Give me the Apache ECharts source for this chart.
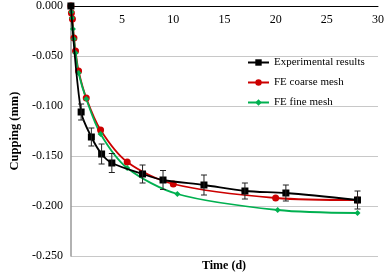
<!DOCTYPE html>
<html>
<head>
<meta charset="utf-8">
<script src="https://cdn.jsdelivr.net/npm/echarts@6/dist/echarts.min.js"></script>
<style>
  html, body { margin: 0; padding: 0; background: #fff; }
  #chart { width: 387px; height: 277px; }
</style>
</head>
<body>
<div id="chart"></div>
<script>
// experimental results (time in days, cupping in mm, error bar half-height)
const expTime = [0, 1, 2, 3, 4, 7, 9, 13, 17, 21, 28];
const expVal = [0, -0.106, -0.131, -0.148, -0.157, -0.168, -0.174, -0.179, -0.185, -0.187, -0.194];
const expErr = [0, 0.008, 0.009, 0.010, 0.0095, 0.009, 0.0095, 0.010, 0.008, 0.008, 0.009];

// FE coarse mesh
const coarseTime = [0, 0.05, 0.15, 0.3, 0.45, 0.75, 1.5, 2.9, 5.5, 10, 20, 28];
const coarseVal = [0, -0.007, -0.013, -0.032, -0.045, -0.065, -0.092, -0.124, -0.156, -0.178, -0.192, -0.194];

// FE fine mesh
const fineTime = [0, 0.05, 0.1, 0.2, 0.3, 0.45, 0.75, 1.5, 2.9, 5.5, 10.4, 20.2, 28];
const fineVal = [0, -0.006, -0.012, -0.023, -0.033, -0.047, -0.067, -0.093, -0.128, -0.162, -0.188, -0.204, -0.207];

const yTicks = [0, -0.05, -0.1, -0.15, -0.2, -0.25];

const zip = (a, b) => a.map((t, i) => [t, b[i]]);
const font = 'Liberation Serif';

const chart = echarts.init(document.getElementById('chart'));

const renderErr = function (params, api) {
  const e = api.value(2);
  if (!e) return null;
  const top = api.coord([api.value(0), api.value(1) + e]);
  const bot = api.coord([api.value(0), api.value(1) - e]);
  const w = 3;
  const style = { stroke: '#222', lineWidth: 1 };
  return {
    type: 'group',
    children: [
      { type: 'line', shape: { x1: top[0], y1: top[1], x2: bot[0], y2: bot[1] }, style: style },
      { type: 'line', shape: { x1: top[0] - w, y1: top[1], x2: top[0] + w, y2: top[1] }, style: style },
      { type: 'line', shape: { x1: bot[0] - w, y1: bot[1], x2: bot[0] + w, y2: bot[1] }, style: style }
    ]
  };
};

const option = {
  animation: false,
  grid: { left: 60, right: 6, top: 5, bottom: 21 },
  title: {
    text: 'Time (d)',
    left: 197,
    bottom: 0,
    textStyle: { fontFamily: font, fontSize: 12, fontWeight: 'bold', color: '#000' }
  },
  legend: {
    orient: 'vertical',
    left: 242,
    top: 52,
    itemWidth: 21,
    itemHeight: 8,
    itemGap: 9,
    textStyle: { fontFamily: font, fontSize: 11, color: '#000' },
    data: ['Experimental results', 'FE coarse mesh', 'FE fine mesh']
  },
  xAxis: {
    type: 'value',
    position: 'top',
    min: 0,
    max: 30,
    interval: 5,
    axisLine: { onZero: false, lineStyle: { color: '#000', width: 1 } },
    axisTick: { show: false },
    splitLine: { show: false },
    axisLabel: {
      inside: true,
      margin: 8,
      fontFamily: font,
      fontSize: 12,
      color: '#000',
      formatter: v => (v === 0 ? '' : String(v))
    }
  },
  yAxis: {
    type: 'value',
    min: yTicks[yTicks.length - 1],
    max: yTicks[0],
    interval: 0.05,
    name: 'Cupping (mm)',
    nameLocation: 'middle',
    nameGap: 46,
    nameTextStyle: { fontFamily: font, fontSize: 12.5, fontWeight: 'bold', color: '#000' },
    axisLine: { show: true, lineStyle: { color: '#999', width: 1.5 } },
    axisTick: { show: false },
    splitLine: { lineStyle: { color: '#c8c8c8', width: 1 } },
    axisLabel: {
      margin: 8,
      fontFamily: font,
      fontSize: 12,
      color: '#000',
      formatter: v => v.toFixed(3)
    }
  },
  series: [
    {
      name: 'Experimental results',
      type: 'line',
      data: zip(expTime, expVal),
      smooth: 0.3,
      symbol: 'rect',
      symbolSize: 7,
      color: '#000',
      lineStyle: { width: 1.8, color: '#000' },
      z: 3
    },
    {
      type: 'custom',
      renderItem: renderErr,
      data: expTime.map((t, i) => [t, expVal[i], expErr[i]]),
      encode: { x: 0, y: 1 },
      z: 4
    },
    {
      name: 'FE coarse mesh',
      type: 'line',
      data: zip(coarseTime, coarseVal),
      smooth: 0.3,
      symbol: 'circle',
      symbolSize: 7,
      color: '#cc0000',
      lineStyle: { width: 1.8, color: '#cc0000' },
      z: 2
    },
    {
      name: 'FE fine mesh',
      type: 'line',
      data: zip(fineTime, fineVal),
      smooth: 0.3,
      symbol: 'diamond',
      symbolSize: 6,
      color: '#00b050',
      lineStyle: { width: 1.8, color: '#00b050' },
      z: 2
    }
  ]
};

chart.setOption(option);
</script>
</body>
</html>
